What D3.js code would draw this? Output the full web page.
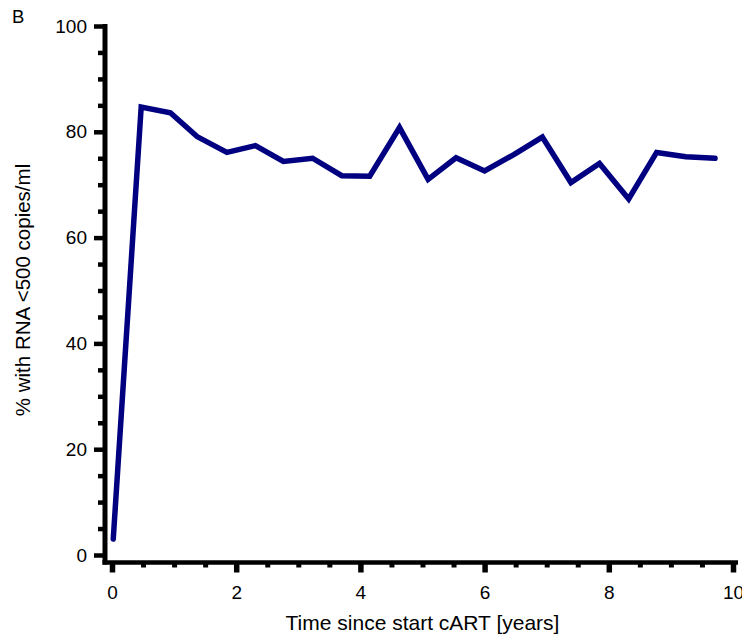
<!DOCTYPE html>
<html lang="en">
<head>
<meta charset="UTF-8">
<style>
  body { margin: 0; background: #fff; }
  svg text { font-family: "Liberation Sans", Arial, sans-serif; fill: #000; }
</style>
</head>
<body>
<svg id="chart" width="742" height="638"></svg>
<script src="https://cdn.jsdelivr.net/npm/d3@7"></script>
<script>
// data
var years = [0.02, 0.47, 0.94, 1.37, 1.85, 2.31, 2.76, 3.23, 3.70, 4.15, 4.63,
             5.09, 5.54, 6.00, 6.47, 6.93, 7.39, 7.85, 8.32, 8.77, 9.24, 9.71];
var pctSuppressed = [3.0, 84.7, 83.6, 79.1, 76.1, 77.4, 74.4, 75.0, 71.7, 71.6, 80.8,
                     71.0, 75.1, 72.6, 75.7, 79.0, 70.4, 74.0, 67.3, 76.1, 75.3, 75.0];
var xMajor = [0, 2, 4, 6, 8, 10];
var yMajor = [0, 20, 40, 60, 80, 100];

var svg = d3.select("#chart");

var x = d3.scaleLinear().domain([0, 10]).range([112, 733]);
var y = d3.scaleLinear().domain([0, 100]).range([555, 26]);

var xAxisY = 562.5, yAxisX = 105;

// minor ticks
var xMinor = d3.range(0, 10.01, 0.5).filter(function(v) { return xMajor.indexOf(v) < 0; });
var yMinor = d3.range(0, 100.1, 5).filter(function(v) { return yMajor.indexOf(v) < 0; });

svg.append("g")
  .attr("transform", "translate(0," + xAxisY + ")")
  .call(d3.axisBottom(x).tickValues(xMinor).tickSize(5).tickFormat(""))
  .call(function(g) { g.select(".domain").remove(); })
  .selectAll("line").attr("stroke", "#000").attr("stroke-width", 5);

svg.append("g")
  .attr("transform", "translate(0," + xAxisY + ")")
  .call(d3.axisBottom(x).tickValues(xMajor).tickSize(10).tickPadding(13))
  .call(function(g) {
    g.select(".domain").remove();
    g.selectAll("line").attr("stroke", "#000").attr("stroke-width", 5.5);
    g.selectAll("text").attr("font-size", 19).attr("font-family", "Liberation Sans, Arial, sans-serif");
  });

svg.append("g")
  .attr("transform", "translate(" + yAxisX + ",0)")
  .call(d3.axisLeft(y).tickValues(yMinor).tickSize(7).tickFormat(""))
  .call(function(g) { g.select(".domain").remove(); })
  .selectAll("line").attr("stroke", "#000").attr("stroke-width", 4.5);

svg.append("g")
  .attr("transform", "translate(" + yAxisX + ",0)")
  .call(d3.axisLeft(y).tickValues(yMajor).tickSize(11).tickPadding(7))
  .call(function(g) {
    g.select(".domain").remove();
    g.selectAll("line").attr("stroke", "#000").attr("stroke-width", 4.5);
    g.selectAll("text").attr("font-size", 19).attr("font-family", "Liberation Sans, Arial, sans-serif");
  });

// axis lines
svg.append("line")
  .attr("x1", yAxisX).attr("x2", yAxisX)
  .attr("y1", y(100) - 2).attr("y2", xAxisY + 2)
  .attr("stroke", "#000").attr("stroke-width", 5);
svg.append("line")
  .attr("x1", yAxisX - 2.5).attr("x2", x(10) + 5)
  .attr("y1", xAxisY).attr("y2", xAxisY)
  .attr("stroke", "#000").attr("stroke-width", 4.5);

// the series
var line = d3.line()
  .x(function(d, i) { return x(years[i]); })
  .y(function(d) { return y(d); });

svg.append("path")
  .datum(pctSuppressed)
  .attr("d", line)
  .attr("fill", "none")
  .attr("stroke", "#000080")
  .attr("stroke-width", 5.5)
  .attr("stroke-linecap", "round")
  .attr("stroke-linejoin", "miter");

// titles
svg.append("text")
  .attr("x", (x(0) + x(10)) / 2)
  .attr("y", 630)
  .attr("text-anchor", "middle")
  .attr("font-size", 21)
  .text("Time since start cART [years]");

svg.append("text")
  .attr("transform", "translate(30," + 290 + ") rotate(-90)")
  .attr("text-anchor", "middle")
  .attr("font-size", 20.5)
  .text("% with RNA <500 copies/ml");

svg.append("text")
  .attr("x", 12)
  .attr("y", 23)
  .attr("font-size", 18.5)
  .text("B");
</script>
</body>
</html>
